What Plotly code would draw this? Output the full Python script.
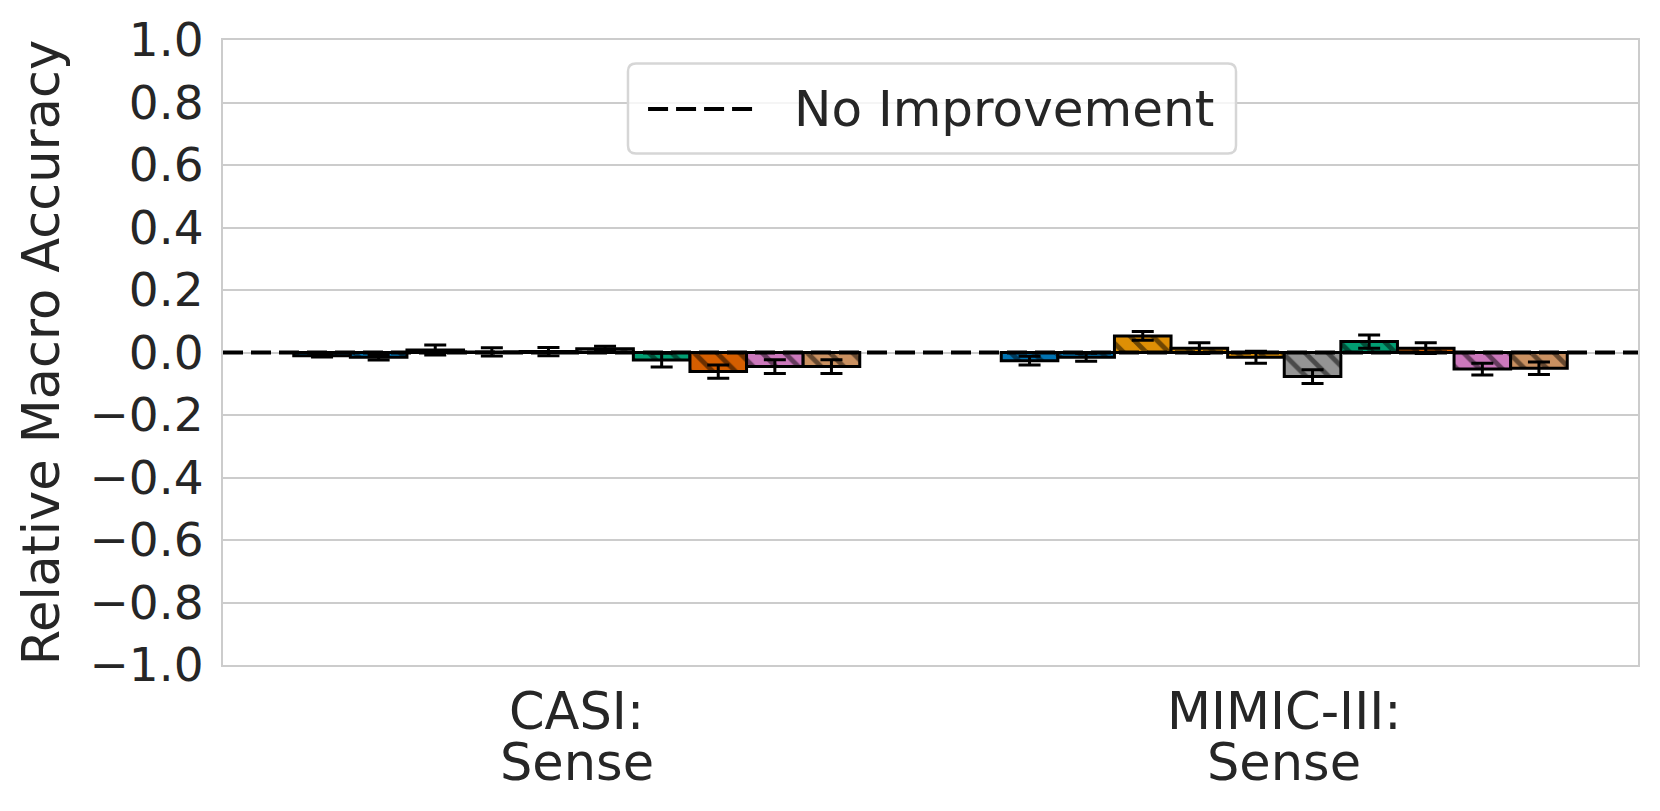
import plotly.graph_objects as go

# Dados
categorias = ["CASI:\nSense", "MIMIC-III:\nSense"]
modelos = ["M1", "M2", "M3", "M4", "M5", "M6", "M7", "M8", "M9", "M10"]
cores = ["#0173b2", "#0173b2", "#de8f05", "#de8f05", "#de8f05",
         "#949494", "#029e73", "#d55e00", "#cc78bc", "#ca9161"]

casi_vals = [-0.010, -0.015, 0.008, 0.002, 0.003, 0.012, -0.024, -0.061, -0.045, -0.045]
casi_err = [0.004, 0.009, 0.016, 0.013, 0.013, 0.008, 0.022, 0.021, 0.022, 0.022]
mimic_vals = [-0.026, -0.015, 0.053, 0.014, -0.015, -0.077, 0.035, 0.014, -0.053, -0.050]
mimic_err = [0.014, 0.013, 0.014, 0.017, 0.019, 0.022, 0.021, 0.017, 0.019, 0.020]

y_ticks = [-1.0, -0.8, -0.6, -0.4, -0.2, 0.0, 0.2, 0.4, 0.6, 0.8, 1.0]

fonte = "DejaVu Sans"
cor_texto = "#262626"
tracejado = "20px,8px"

fig = go.Figure()

# Barras agrupadas
for i, nome in enumerate(modelos):
    fig.add_trace(go.Bar(
        x=categorias,
        y=[casi_vals[i], mimic_vals[i]],
        name=nome,
        showlegend=False,
        marker=dict(
            color=cores[i],
            line=dict(color="black", width=3),
            pattern=dict(shape="\\", fgcolor="black", bgcolor=cores[i],
                         size=16, solidity=0.3),
        ),
        error_y=dict(type="data", array=[casi_err[i], mimic_err[i]],
                     color="black", thickness=3, width=11),
    ))

# Linha de referência
fig.add_shape(type="line", xref="paper", yref="y", x0=0, x1=1, y0=0, y1=0,
              line=dict(color="black", width=4, dash=tracejado), layer="above")

# Legenda desenhada à mão (caixa arredondada, amostra e texto)
lx0, lx1, ly0, ly1 = 0.2862, 0.7159, 0.8184, 0.9624
rx, ry = 8 / 1415, 8 / 625
caminho = (f"M{lx0 + rx},{ly1} L{lx1 - rx},{ly1} Q{lx1},{ly1} {lx1},{ly1 - ry} "
           f"L{lx1},{ly0 + ry} Q{lx1},{ly0} {lx1 - rx},{ly0} "
           f"L{lx0 + rx},{ly0} Q{lx0},{ly0} {lx0},{ly0 + ry} "
           f"L{lx0},{ly1 - ry} Q{lx0},{ly1} {lx0 + rx},{ly1} Z")
fig.add_shape(type="path", xref="paper", yref="paper", path=caminho,
              fillcolor="rgba(255,255,255,0.8)", line=dict(color="#d6d6d6", width=2.5),
              layer="above")
fig.add_shape(type="line", xref="paper", yref="paper",
              x0=0.3004, x1=0.3739, y0=0.8896, y1=0.8896,
              line=dict(color="black", width=4, dash=tracejado), layer="above")
fig.add_annotation(xref="paper", yref="paper", x=0.4021, y=0.8896,
                   xanchor="left", yanchor="middle", showarrow=False,
                   text="No Improvement", font=dict(size=50, color=cor_texto))

# Rótulos das categorias (duas linhas, espaçamento do matplotlib)
for cat in categorias:
    for j, linha in enumerate(cat.split("\n")):
        fig.add_annotation(x=cat, xref="x", yref="paper", y=0, yanchor="middle",
                           yshift=-46 - 51 * j, showarrow=False, text=linha,
                           height=48, valign="middle",
                           font=dict(size=51, color=cor_texto))

fig.update_layout(
    width=1660, height=811,
    margin=dict(l=215, r=30, t=32, b=154, autoexpand=False),
    paper_bgcolor="white", plot_bgcolor="white",
    barmode="group", bargap=0.2, bargroupgap=0,
    font=dict(family=fonte, size=48, color=cor_texto),
    showlegend=False,
    xaxis=dict(
        showgrid=False, showline=True, linecolor="#cccccc", linewidth=2,
        mirror=True, ticks="", showticklabels=False, automargin=False,
    ),
    yaxis=dict(
        range=[-1, 1], tickvals=y_ticks,
        ticktext=[f"{v:.1f}".replace("-", "\u2212") for v in y_ticks],
        tickfont=dict(size=47), automargin=False,
        showgrid=True, gridcolor="#cccccc", gridwidth=2,
        showline=True, linecolor="#cccccc", linewidth=2, mirror=True,
        zeroline=False, ticks="outside", ticklen=8, tickcolor="rgba(0,0,0,0)",
        title=dict(text="Relative Macro Accuracy", font=dict(size=51), standoff=14),
    ),
)

fig.write_html("out.html")
